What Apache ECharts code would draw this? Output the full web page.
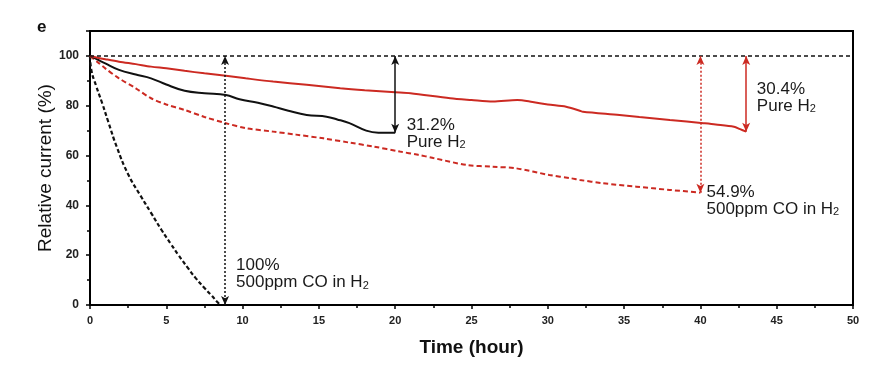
<!DOCTYPE html>
<html><head><meta charset="utf-8">
<script src="https://cdn.jsdelivr.net/npm/echarts@6/dist/echarts.min.js"></script>
<style>html,body{margin:0;padding:0;background:#fff}#c{width:889px;height:373px}</style>
</head><body><div id="c"></div><script>
// ---- data ----
const xTickLabels = [0,5,10,15,20,25,30,35,40,45,50];
const yTickLabels = [0,20,40,60,80,100];

const pureRedTime  = [0,0.5,1,1.9,3,4,5,6.2,7.5,8.9,10.2,12,14.2,16.4,18,20,21,23.6,25,26.4,28,29,30,31.2,32.1,32.3,34.7,36,38,40.2,41,42.2,42.6,43];
const pureRedValue = [100,99.3,98.7,97.7,96.7,95.7,95,94,93,92,91,89.7,88.4,87,86.2,85.4,85,83,82.3,81.7,82.3,81.5,80.5,79.6,78,77.6,76.3,75.5,74.3,73,72.5,71.6,70.6,69.6];

const pureBlackTime  = [0,0.5,1,1.9,3,4,5,6.2,7.5,8.9,9.8,11,12,13,14.2,15.5,16.2,17,18.1,18.9,20];
const pureBlackValue = [100,98.5,97,94.4,92.5,91,88.5,86,85,84.3,82.6,81.2,79.7,78,76.3,75.6,74.5,73,70,69.2,69.2];

const coRedTime  = [0,0.5,1,1.9,3,4,5,6.2,7.5,8.9,10.2,12,13.5,15.3,17,18.6,20.3,21.5,22.5,24.7,26.4,27.9,30.1,31.5,32.1,33.6,35.8,38,40];
const coRedValue = [100,97.5,95,91,87,83,80.5,78.3,75.5,73,71,69.6,68.4,66.9,65.2,63.6,61.6,60.3,59,56.2,55.5,54.9,52.2,50.9,50.2,48.9,47.5,46.2,45.1];

const coBlackTime  = [0,0.1,0.4,0.8,1.2,1.75,2.5,3.3,4.0,4.7,5.3,5.8,6.4,6.9,7.5,8.0,8.3,8.55];
const coBlackValue = [100,94,88,81,73.5,63.5,52.5,44,37,30,24.5,20,15,11,6.8,3.6,1.5,0];

const arrowTime  = [8.85, 20, 40, 43];
const arrowFrom  = [0, 69.2, 45.1, 69.6];
const arrowTo    = [100, 100, 100, 100];

const noteTime   = [9.57, 20.75, 43.7, 40.4];
const noteValue  = [12.4, 68.7, 83.3, 41.8];
const notePct    = ['100%', '31.2%', '30.4%', '54.9%'];
const noteGas    = ['500ppm CO in ', 'Pure ', 'Pure ', '500ppm CO in '];

// ---- styles ----
const RED = '#cc2a22';
const BLK = '#111111';
const TXT = '#1a1a1a';
const FONT = 'Liberation Sans, Arial, sans-serif';
const zip = (a, b) => a.map((v, i) => [v, b[i]]);

const arrowStyles = [
  {color: BLK, type: [2, 2]},
  {color: BLK, type: 'solid'},
  {color: RED, type: [2, 2]},
  {color: RED, type: 'solid'}
];

const chart = echarts.init(document.getElementById('c'), null, {renderer: 'canvas'});
chart.setOption({
  animation: false,
  backgroundColor: '#fff',
  textStyle: {fontFamily: FONT},
  grid: {left: 90, right: 36, top: 31, bottom: 68, show: true, borderColor: '#000', borderWidth: 2, backgroundColor: 'transparent'},
  graphic: [{type: 'text', left: 37, top: 19, style: {text: 'e', font: 'bold 17px ' + FONT, fill: '#111'}}],
  xAxis: {
    type: 'value', min: 0, max: 50, interval: 5,
    name: 'Time (hour)', nameLocation: 'middle', nameGap: 33, nameMoveOverlap: false,
    nameTextStyle: {fontSize: 19, color: '#111', fontFamily: FONT, fontWeight: 'bold'},
    axisLine: {show: true, onZero: false, lineStyle: {color: '#000', width: 2}},
    axisTick: {show: true, inside: false, length: 4, lineStyle: {color: '#000', width: 1.5}},
    minorTick: {show: true, splitNumber: 2, length: 3, lineStyle: {color: '#000', width: 1.5}},
    splitLine: {show: false},
    axisLabel: {fontSize: 11, fontWeight: 'bold', color: '#222', margin: 10,
      formatter: v => xTickLabels.includes(v) ? String(v) : ''}
  },
  yAxis: {
    type: 'value', min: 0, max: 110, interval: 20,
    name: 'Relative current (%)', nameLocation: 'middle', nameGap: 35, nameMoveOverlap: false,
    nameTextStyle: {fontSize: 19, color: '#111', fontFamily: FONT},
    axisLine: {show: true, onZero: false, lineStyle: {color: '#000', width: 2}},
    axisTick: {show: true, inside: false, length: 4, lineStyle: {color: '#000', width: 1.5}},
    minorTick: {show: true, splitNumber: 2, length: 3, lineStyle: {color: '#000', width: 1.5}},
    splitLine: {show: false},
    axisLabel: {fontSize: 12, fontWeight: 'bold', color: '#222', margin: 11,
      formatter: v => yTickLabels.includes(v) ? String(v) : ''}
  },
  series: [
    {type: 'line', data: zip(coBlackTime, coBlackValue), showSymbol: false, smooth: 0.5,
     lineStyle: {color: BLK, width: 2.2, type: [4, 2.5]}, z: 3},
    {type: 'line', data: zip(coRedTime, coRedValue), showSymbol: false, smooth: 0.3,
     lineStyle: {color: RED, width: 2, type: [5, 3]}, z: 3},
    {type: 'line', data: zip(pureBlackTime, pureBlackValue), showSymbol: false, smooth: 0.4,
     lineStyle: {color: BLK, width: 2}, z: 3},
    {type: 'line', data: zip(pureRedTime, pureRedValue), showSymbol: false, smooth: 0.3,
     lineStyle: {color: RED, width: 2}, z: 3,
     markLine: {
       silent: true, animation: false, label: {show: false},
       symbol: ['arrow', 'arrow'], symbolSize: [6, 9],
       data: [
         [{coord: [0, 100], symbol: 'none', lineStyle: {color: BLK, width: 1.5, type: [4, 3]}},
          {coord: [50, 100], symbol: 'none'}]
       ].concat(arrowTime.map((t, i) => [
         {coord: [t, arrowFrom[i]], lineStyle: {color: arrowStyles[i].color, width: 1.5, type: arrowStyles[i].type},
          itemStyle: {color: arrowStyles[i].color}},
         {coord: [t, arrowTo[i]]}
       ]))
     }},
    {type: 'scatter', symbolSize: 0, silent: true, z: 5,
     data: noteTime.map((t, i) => [t, noteValue[i]]),
     label: {
       show: true, position: 'right', distance: 0, color: TXT, opacity: 1, fontFamily: FONT,
       formatter: p => '{a|' + notePct[p.dataIndex] + '}\n{a|' + noteGas[p.dataIndex] + 'H}{s|2}',
       rich: {
         a: {fontSize: 17, lineHeight: 17, color: TXT, fontFamily: FONT},
         s: {fontSize: 11, lineHeight: 17, color: TXT, fontFamily: FONT, verticalAlign: 'bottom', padding: [8, 0, 0, 0]}
       }
     }}
  ]
});
</script></body></html>
